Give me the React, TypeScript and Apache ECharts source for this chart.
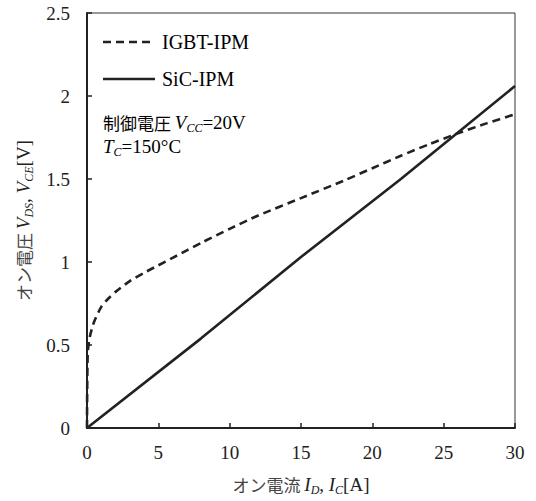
import React, { useEffect, useRef } from "react";
import * as echarts from "echarts";

const SERIF = "'Liberation Serif', 'DejaVu Serif', serif";
const JP = "'Noto Sans CJK JP', 'Noto Sans', sans-serif";

const seriesNames = ["IGBT-IPM", "SiC-IPM"];

// IGBT-IPM: current I_C [A], voltage V_CE [V]
const igbtCurrent = [0, 0.05, 0.2, 0.5, 1, 1.5, 2, 3, 4, 5, 6, 7, 8, 10, 12, 15, 18, 20, 22, 24, 26, 28, 30];
const igbtVoltage = [0, 0.45, 0.55, 0.64, 0.73, 0.78, 0.82, 0.885, 0.935, 0.98, 1.025, 1.07, 1.115, 1.2, 1.28, 1.385, 1.49, 1.565, 1.64, 1.71, 1.775, 1.835, 1.89];

// SiC-IPM: current I_D [A], voltage V_DS [V]
const sicCurrent = [0, 8, 15, 22, 26, 30];
const sicVoltage = [0, 0.54, 1.03, 1.5, 1.78, 2.06];

const xTicks = { min: 0, max: 30, interval: 5 };
const yTicks = { min: 0, max: 2.5, interval: 0.5 };

const LH = 24;
const richStyles = {
  jp: { fontFamily: JP, fontSize: 17, color: "#444", lineHeight: LH },
  v: { fontFamily: SERIF, fontStyle: "italic", fontSize: 19, color: "#222", lineHeight: LH },
  sub: { fontFamily: SERIF, fontStyle: "italic", fontSize: 12, color: "#222", verticalAlign: "bottom", lineHeight: 13 },
  n: { fontFamily: SERIF, fontSize: 19, color: "#222", lineHeight: LH },
};

export default function App() {
  const ref = useRef<HTMLDivElement>(null);
  useEffect(() => {
    if (!ref.current) return;
    const chart = echarts.init(ref.current, null, { renderer: "svg" });
    const igbt = igbtCurrent.map((x, i) => [x, igbtVoltage[i]]);
    const sic = sicCurrent.map((x, i) => [x, sicVoltage[i]]);
    chart.setOption({
      animation: false,
      backgroundColor: "#fff",
      grid: {
        left: 87,
        right: 21,
        top: 13,
        bottom: 69,
        show: true,
        borderColor: "#333",
        borderWidth: 1,
        backgroundColor: "transparent",
      },
      xAxis: {
        type: "value",
        min: xTicks.min,
        max: xTicks.max,
        interval: xTicks.interval,
        axisLine: { show: true, onZero: false, lineStyle: { color: "#222", width: 2 } },
        axisTick: { show: true, inside: true, length: 5, lineStyle: { color: "#222", width: 1.5 } },
        splitLine: { show: false },
        axisLabel: { margin: 15, fontFamily: SERIF, fontSize: 19, color: "#222" },
        name: "{jp|オン電流 }{v|I}{sub|D}{n|, }{v|I}{sub|C}{n|[A]}",
        nameLocation: "middle",
        nameGap: 44,
        nameTextStyle: { rich: richStyles },
      },
      yAxis: {
        type: "value",
        min: yTicks.min,
        max: yTicks.max,
        interval: yTicks.interval,
        axisLine: { show: true, onZero: false, lineStyle: { color: "#222", width: 2 } },
        axisTick: { show: true, inside: true, length: 5, lineStyle: { color: "#222", width: 1.5 } },
        splitLine: { show: false },
        axisLabel: { margin: 17, fontFamily: SERIF, fontSize: 19, color: "#222" },
        name: "{jp|オン電圧 }{v|V}{sub|DS}{n|, }{v|V}{sub|CE}{n|[V]}",
        nameLocation: "middle",
        nameRotate: 90,
        nameGap: 50,
        nameTextStyle: { rich: richStyles },
      },
      graphic: [
        {
          type: "line",
          shape: { x1: 103, y1: 42, x2: 155, y2: 42 },
          style: { stroke: "#222", lineWidth: 2.6, lineDash: [8, 5] },
        },
        {
          type: "text",
          x: 162,
          y: 42,
          style: { text: "{n|" + seriesNames[0] + "}", rich: { n: { fontFamily: SERIF, fontSize: 20, color: "#222" } }, verticalAlign: "middle" },
        },
        {
          type: "line",
          shape: { x1: 103, y1: 79, x2: 155, y2: 79 },
          style: { stroke: "#222", lineWidth: 2.6 },
        },
        {
          type: "text",
          x: 162,
          y: 79,
          style: { text: "{n|" + seriesNames[1] + "}", rich: { n: { fontFamily: SERIF, fontSize: 20, color: "#222" } }, verticalAlign: "middle" },
        },
        {
          type: "text",
          x: 103,
          y: 110,
          style: {
            text: "{jp|制御電圧 }{v|V}{sub|CC}{n|=20V}",
            rich: richStyles,
          },
        },
        {
          type: "text",
          x: 103,
          y: 134,
          style: {
            text: "{v|T}{sub|C}{n|=150°C}",
            rich: richStyles,
          },
        },
      ],
      series: [
        {
          name: seriesNames[0],
          type: "line",
          data: igbt,
          symbol: "none",
          smooth: 0.25,
          lineStyle: { color: "#222", width: 2.6, type: [8, 5] },
          itemStyle: { color: "#222" },
        },
        {
          name: seriesNames[1],
          type: "line",
          data: sic,
          symbol: "none",
          lineStyle: { color: "#222", width: 2.6, type: "solid" },
          itemStyle: { color: "#222" },
        },
      ],
    });
    return () => chart.dispose();
  }, []);
  return (
    <div
      ref={ref}
      style={{ position: "fixed", left: 0, top: 0, width: 536, height: 501, background: "#fff" }}
    />
  );
}
